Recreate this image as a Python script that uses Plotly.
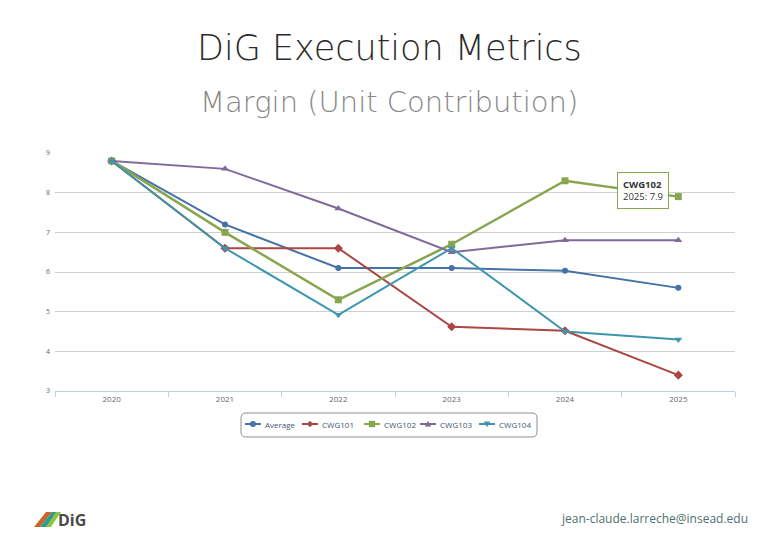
import plotly.graph_objects as go

years = ["2020", "2021", "2022", "2023", "2024", "2025"]
average = [8.8, 7.2, 6.1, 6.1, 6.03, 5.6]
cwg101 = [8.8, 6.6, 6.6, 4.62, 4.52, 3.4]
cwg102 = [8.8, 7.0, 5.3, 6.7, 8.3, 7.9]
cwg103 = [8.8, 8.6, 7.6, 6.5, 6.8, 6.8]
cwg104 = [8.8, 6.6, 4.92, 6.6, 4.5, 4.3]

series = [
    ("Average", average, "#4572A7", "circle", 6),
    ("CWG101", cwg101, "#AA4643", "diamond", 7),
    ("CWG102", cwg102, "#89A54E", "square", 7),
    ("CWG103", cwg103, "#80699B", "triangle-up", 7),
    ("CWG104", cwg104, "#3D96AE", "triangle-down", 7),
]

fig = go.Figure()
for name, vals, color, sym, sz in series:
    fig.add_trace(go.Scatter(
        x=years, y=vals, name=name, mode="lines+markers",
        line=dict(color=color, width=2 if name != "CWG102" else 2.5),
        marker=dict(color=color, symbol=sym, size=sz),
    ))

font = "Open Sans, sans-serif"
tfont = "DejaVu Sans ExtraLight, DejaVu Sans, sans-serif"

# screen pixel -> paper coords (plot area lands at screen x 55..735, y 153..391)
PL, PR, PT, PB = 55, 735, 153, 391


def px(x):
    return (x - PL) / (PR - PL)


def py(y):
    return (PB - y) / (PB - PT)


annotations = [
    dict(text="DiG Execution Metrics", xref="paper", yref="paper",
         x=0.5, xanchor="center", xshift=-6, y=1, yanchor="middle", showarrow=False,
         yshift=PT - 48,
         font=dict(family=tfont, size=35, color="#2a2a2a", weight=200)),
    dict(text="Margin (Unit Contribution)", xref="paper", yref="paper",
         x=0.5, xanchor="center", xshift=-6, y=1, yanchor="middle", showarrow=False,
         yshift=PT - 102,
         font=dict(family=tfont, size=29, color="#888888", weight=200)),
    dict(text="<b>CWG102</b><br>2025: 7.9", xref="x", yref="y",
         x=5, y=7.9, xanchor="right", yanchor="middle",
         xshift=-9, yshift=6, showarrow=False, align="left",
         bordercolor="#89A54E", borderwidth=1, borderpad=5,
         bgcolor="rgba(255,255,255,0.92)",
         font=dict(family=font, size=9.5, color="#333333")),
    dict(text="jean-claude.larreche@insead.edu", xref="paper", yref="paper",
         x=1, xanchor="right", xshift=15, y=0, yanchor="middle",
         yshift=-(518 - PB), showarrow=False,
         font=dict(family=font, size=12, color="#4f6f6f")),
    dict(text="<b>DiG</b>", xref="paper", yref="paper",
         x=0, xanchor="left", xshift=1, y=0, yanchor="middle",
         yshift=-(520 - PB), showarrow=False,
         font=dict(family=font, size=16, color="#4a4a4a")),
]

shapes = []

# logo stripes
stripes = [
    (34, 40, 46, 52, "#c9652a"),
    (40, 46, 52, 58, "#2a9d8f"),
    (46, 51, 56, 61, "#8dc63f"),
]
for x0, x1, x2, x3, c in stripes:
    path = "M {} {} L {} {} L {} {} L {} {} Z".format(
        px(x0), py(527), px(x1), py(527), px(x3), py(512), px(x2), py(512))
    shapes.append(dict(type="path", path=path, xref="paper", yref="paper",
                       fillcolor=c, line=dict(width=0)))

# custom compact legend (Highcharts style)
LX0, LX1, LY0, LY1, R = 241, 537, 413, 437, 5
box = ("M {a} {b} L {c} {b} Q {d} {b} {d} {e} L {d} {f} Q {d} {g} {c} {g} "
       "L {a} {g} Q {h} {g} {h} {f} L {h} {e} Q {h} {b} {a} {b} Z").format(
    a=px(LX0 + R), b=py(LY0), c=px(LX1 - R), d=px(LX1), e=py(LY0 + R),
    f=py(LY1 - R), g=py(LY1), h=px(LX0))
shapes.append(dict(type="path", path=box, xref="paper", yref="paper",
                   fillcolor="white", line=dict(color="#909090", width=1)))

legend_cx = [253, 310, 372, 428, 487]
LY = 424


def marker_path(sym, cx, cy, r):
    if sym == "diamond":
        pts = [(cx, cy - r), (cx + r, cy), (cx, cy + r), (cx - r, cy)]
    elif sym == "square":
        pts = [(cx - r, cy - r), (cx + r, cy - r), (cx + r, cy + r), (cx - r, cy + r)]
    elif sym == "triangle-up":
        pts = [(cx, cy - r), (cx + r, cy + r * 0.8), (cx - r, cy + r * 0.8)]
    else:
        pts = [(cx - r, cy - r * 0.8), (cx + r, cy - r * 0.8), (cx, cy + r)]
    return "M " + " L ".join("{} {}".format(px(a), py(b)) for a, b in pts) + " Z"


for (name, vals, color, sym, sz), cx in zip(series, legend_cx):
    shapes.append(dict(type="line", xref="paper", yref="paper",
                       x0=px(cx - 8), x1=px(cx + 8), y0=py(LY), y1=py(LY),
                       line=dict(color=color, width=2)))
    if sym == "circle":
        shapes.append(dict(type="circle", xref="paper", yref="paper",
                           x0=px(cx - 3), x1=px(cx + 3), y0=py(LY + 3), y1=py(LY - 3),
                           fillcolor=color, line=dict(width=0)))
    else:
        shapes.append(dict(type="path", xref="paper", yref="paper",
                           path=marker_path(sym, cx, LY, 3.2),
                           fillcolor=color, line=dict(width=0)))
    annotations.append(dict(text=name, xref="paper", yref="paper",
                            x=px(cx + 10), xanchor="left", y=py(LY), yanchor="middle",
                            showarrow=False,
                            font=dict(family=font, size=8, color="#3E576F")))

OFF = 8  # page renders with an 8px body offset
fig.update_layout(
    width=780, height=540,
    margin=dict(l=PL - OFF, r=780 - (PR - OFF), t=PT - OFF, b=540 - (PB - OFF)),
    paper_bgcolor="white", plot_bgcolor="white",
    showlegend=False,
    xaxis=dict(
        type="category", range=[-0.5, 5.5], showgrid=False,
        showline=True, linecolor="#C0D0E0", linewidth=1,
        ticks="outside", tickson="boundaries", ticklen=5, tickcolor="#C0D0E0",
        tickfont=dict(family=font, size=8, color="#666666"),
    ),
    yaxis=dict(
        range=[3, 9], dtick=1, showgrid=True, gridcolor="#D0D0D0",
        zeroline=False, showline=False,
        tickfont=dict(family=font, size=7, color="#666666"),
        ticklabelstandoff=4,
    ),
    annotations=annotations,
    shapes=shapes,
)

fig.write_html("out.html")
